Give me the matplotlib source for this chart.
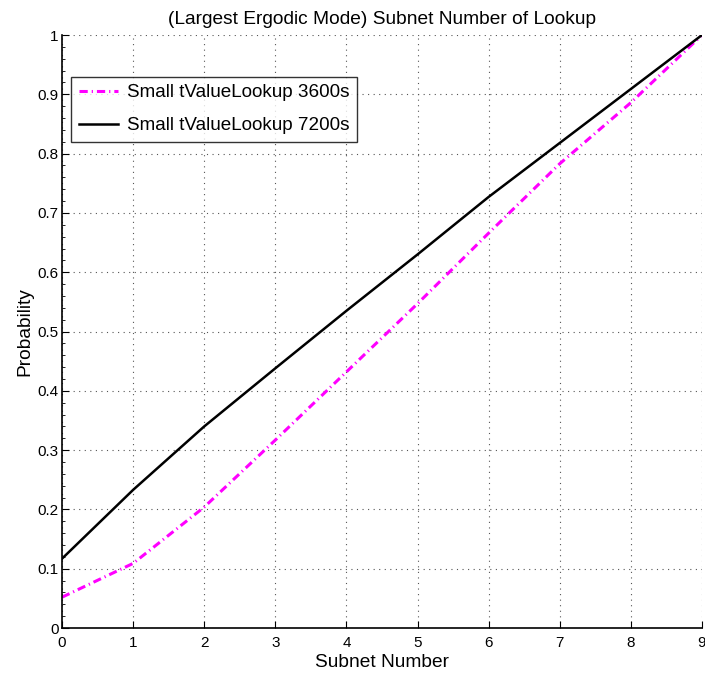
import matplotlib
matplotlib.use("Agg")
import matplotlib.pyplot as plt
from matplotlib.ticker import MultipleLocator, FuncFormatter

plt.rcParams['font.family'] = ['Liberation Sans', 'DejaVu Sans']

subnet = [0, 1, 2, 3, 4, 5, 6, 7, 8, 9]
p_3600 = [0.052, 0.109, 0.204, 0.317, 0.432, 0.547, 0.666, 0.783, 0.886, 1.0]
p_7200 = [0.117, 0.233, 0.340, 0.438, 0.535, 0.630, 0.727, 0.818, 0.909, 1.0]
labels = ["Small tValueLookup 3600s", "Small tValueLookup 7200s"]

fig = plt.figure(figsize=(7.05, 6.75), dpi=100)
ax = fig.add_axes([0.088, 0.0696, 0.9077, 0.8785])

ax.plot(subnet, p_3600, color="#ff00ff", lw=2.2, dashes=[2.7, 1.3, 0.4, 1.3], label=labels[0])
ax.plot(subnet, p_7200, color="black", lw=1.8, label=labels[1])

ax.set_xlim(0, 9)
ax.set_ylim(0, 1)
ax.xaxis.set_major_locator(MultipleLocator(1))
ax.yaxis.set_major_locator(MultipleLocator(0.1))
ax.yaxis.set_minor_locator(MultipleLocator(0.02))
ax.yaxis.set_major_formatter(FuncFormatter(lambda v, p: "%g" % round(v, 2)))
ax.tick_params(direction="in", labelsize=11, length=5, width=0.8, pad=2.5,
               top=False, right=False)
ax.tick_params(axis="x", pad=5.5)
ax.tick_params(which="minor", direction="in", length=2.5, width=0.6)
ax.grid(True, which="major", linestyle=(0, (1, 4)), color="#555555", linewidth=0.8)

for side in ["top", "right"]:
    ax.spines[side].set_visible(False)
for side in ["left", "bottom"]:
    ax.spines[side].set_linewidth(1.2)

ax.set_title("(Largest Ergodic Mode) Subnet Number of Lookup", fontsize=13.8, pad=8)
ax.set_xlabel("Subnet Number", fontsize=13.8, labelpad=3)
ax.set_ylabel("Probability", fontsize=13.8, labelpad=3)

leg = ax.legend(loc="upper left", bbox_to_anchor=(0.014, 0.930), borderaxespad=0,
                fontsize=13.6, frameon=True, fancybox=False, handlelength=2.1,
                handletextpad=0.45, borderpad=0.4, labelspacing=0.83)
leg.get_frame().set_edgecolor("black")
leg.get_frame().set_linewidth(1.0)

fig.savefig("out.png", dpi=100)
